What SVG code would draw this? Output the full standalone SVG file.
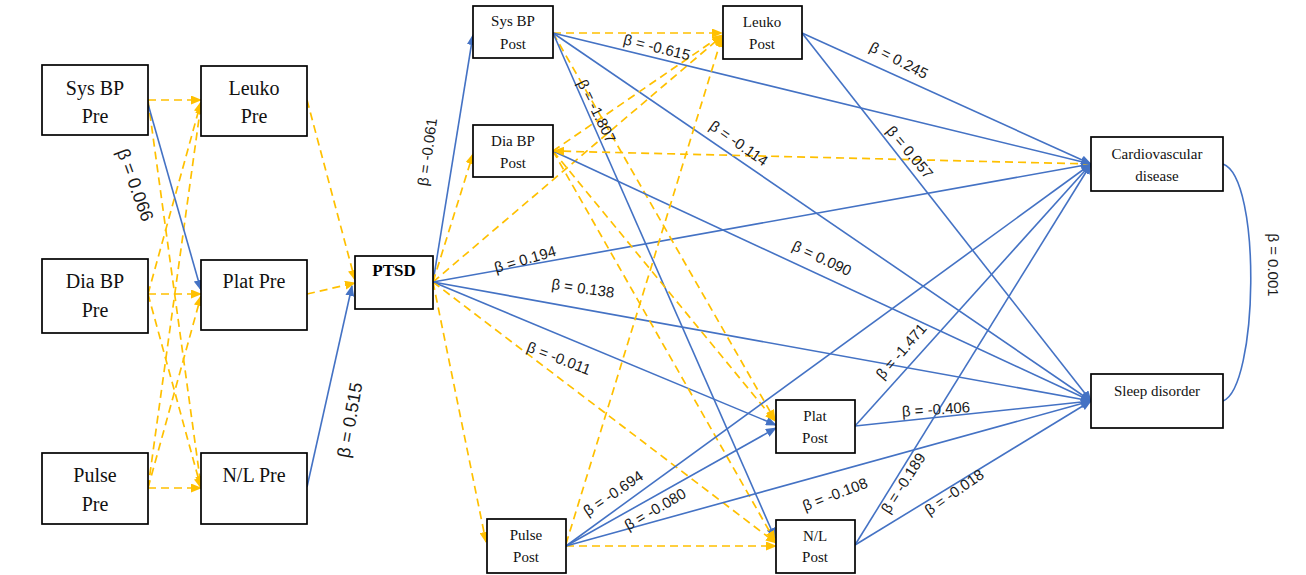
<svg xmlns="http://www.w3.org/2000/svg" width="1306" height="575" viewBox="0 0 1306 575">
  <defs>
    <marker id="ahBlue" markerUnits="userSpaceOnUse" markerWidth="11" markerHeight="9" refX="10" refY="4.5" orient="auto">
      <path d="M0,0 L11,4.5 L0,9 z" fill="#4472C4"/>
    </marker>
    <marker id="ahYellow" markerUnits="userSpaceOnUse" markerWidth="11" markerHeight="9" refX="10" refY="4.5" orient="auto">
      <path d="M0,0 L11,4.5 L0,9 z" fill="#FFC000"/>
    </marker>
    <style>
      .box { fill: #ffffff; stroke: #000000; stroke-width: 1.7; }
      .pre { font-family: "Liberation Serif", "Times New Roman", serif; font-size: 20px; fill: #111; text-anchor: middle; }
      .post { font-family: "Liberation Serif", "Times New Roman", serif; font-size: 15px; fill: #111; text-anchor: middle; }
      .bold { font-family: "Liberation Serif", "Times New Roman", serif; font-size: 17px; font-weight: bold; fill: #000; text-anchor: middle; }
      .blue { fill: none; stroke: #4472C4; stroke-width: 1.6; }
      .blueA { fill: none; stroke: #4472C4; stroke-width: 1.6; marker-end: url(#ahBlue); }
      .dash { fill: none; stroke: #FFC000; stroke-width: 1.7; stroke-dasharray: 8 5; marker-end: url(#ahYellow); }
      .lbl { font-family: "Liberation Sans", Arial, sans-serif; font-size: 15px; fill: #1a1a1a; text-anchor: middle; dominant-baseline: central; }
      .lblBig { font-family: "Liberation Sans", Arial, sans-serif; font-size: 18px; fill: #1a1a1a; text-anchor: middle; dominant-baseline: central; }
    </style>
  </defs>

  <rect width="1306" height="575" fill="#ffffff"/>

  <!-- paths between variables -->
  <g id="connectors">
    <!-- pre-measures -->
    <line class="dash" x1="148" y1="100" x2="201" y2="100"/>
    <line class="dash" x1="148" y1="100" x2="201" y2="486"/>
    <line class="dash" x1="148" y1="294" x2="201" y2="102"/>
    <line class="dash" x1="148" y1="294" x2="201" y2="294"/>
    <line class="dash" x1="148" y1="294" x2="201" y2="488"/>
    <line class="dash" x1="148" y1="488" x2="201" y2="104"/>
    <line class="dash" x1="148" y1="488" x2="201" y2="296"/>
    <line class="dash" x1="148" y1="488" x2="201" y2="488"/>
    <line class="blueA" x1="148" y1="104" x2="201" y2="290"/>
    <line class="dash" x1="307" y1="100" x2="355" y2="280"/>
    <line class="dash" x1="307" y1="294" x2="355" y2="283"/>
    <line class="blueA" x1="307" y1="487" x2="352" y2="286"/>

    <!-- PTSD to post-measures and outcomes -->
    <line class="blueA" x1="433" y1="282" x2="473" y2="35"/>
    <line class="dash" x1="433" y1="282" x2="473" y2="154"/>
    <line class="dash" x1="433" y1="282" x2="722" y2="36"/>
    <line class="dash" x1="433" y1="282" x2="486" y2="542"/>
    <line class="blueA" x1="433" y1="282" x2="776" y2="425"/>
    <line class="dash" x1="433" y1="282" x2="776" y2="543"/>
    <line class="blueA" x1="433" y1="282" x2="1091" y2="164"/>
    <line class="blueA" x1="433" y1="282" x2="1091" y2="401"/>

    <!-- Sys BP Post -->
    <line class="dash" x1="553" y1="33" x2="722" y2="33"/>
    <line class="dash" x1="553" y1="33" x2="775" y2="420"/>
    <line class="blueA" x1="553" y1="33" x2="775" y2="538"/>
    <line class="blueA" x1="553" y1="33" x2="1091" y2="164"/>
    <line class="blueA" x1="553" y1="33" x2="1091" y2="401"/>

    <!-- Dia BP Post -->
    <line class="dash" x1="553" y1="151" x2="722" y2="35"/>
    <line class="dash" x1="553" y1="151" x2="775" y2="421"/>
    <line class="dash" x1="553" y1="151" x2="775" y2="541"/>
    <line class="blueA" x1="553" y1="151" x2="1091" y2="401"/>
    <line class="dash" x1="1091" y1="164" x2="554" y2="151"/>

    <!-- Leuko Post -->
    <line class="blueA" x1="802" y1="33" x2="1091" y2="164"/>
    <line class="blueA" x1="802" y1="33" x2="1091" y2="401"/>

    <!-- Pulse Post -->
    <line class="dash" x1="566" y1="544" x2="722" y2="37"/>
    <line class="dash" x1="566" y1="546" x2="776" y2="546"/>
    <line class="blueA" x1="566" y1="546" x2="776" y2="428"/>
    <line class="blueA" x1="566" y1="546" x2="1091" y2="164"/>
    <line class="blueA" x1="566" y1="546" x2="1091" y2="401"/>

    <!-- Plat Post -->
    <line class="blueA" x1="855" y1="426" x2="1091" y2="164"/>
    <line class="blueA" x1="855" y1="426" x2="1091" y2="401"/>

    <!-- N/L Post -->
    <line class="blueA" x1="855" y1="545" x2="1091" y2="164"/>
    <line class="blueA" x1="855" y1="545" x2="1091" y2="401"/>

    <!-- outcome covariance -->
    <path class="blue" d="M1223,164 C1262,178 1258,388 1223,401"/>

    <!-- coefficients -->
    <text class="lblBig" transform="translate(135,185) rotate(70)">β = 0.066</text>
    <text class="lblBig" transform="translate(350,420) rotate(-80)">β = 0.515</text>
    <text class="lbl" transform="translate(427,152) rotate(-82)">β = -0.061</text>
    <text class="lbl" transform="translate(657,47) rotate(14)">β = -0.615</text>
    <text class="lbl" transform="translate(597,111) rotate(64)">β = -1.807</text>
    <text class="lbl" transform="translate(739,143) rotate(35)">β = -0.114</text>
    <text class="lbl" transform="translate(899,60) rotate(27)">β = 0.245</text>
    <text class="lbl" transform="translate(910,152) rotate(50)">β = 0.057</text>
    <text class="lbl" transform="translate(525,259) rotate(-16)">β = 0.194</text>
    <text class="lbl" transform="translate(583,288) rotate(8)">β = 0.138</text>
    <text class="lbl" transform="translate(559,358) rotate(21)">β = -0.011</text>
    <text class="lbl" transform="translate(822,258) rotate(25)">β = 0.090</text>
    <text class="lbl" transform="translate(901,351) rotate(-49)">β = -1.471</text>
    <text class="lbl" transform="translate(936,409) rotate(-4)">β = -0.406</text>
    <text class="lbl" transform="translate(613,493) rotate(-34)">β = -0.694</text>
    <text class="lbl" transform="translate(655,509) rotate(-30)">β = -0.080</text>
    <text class="lbl" transform="translate(835,494) rotate(-21)">β = -0.108</text>
    <text class="lbl" transform="translate(903,483) rotate(-57)">β = -0.189</text>
    <text class="lbl" transform="translate(954,492) rotate(-35)">β = -0.018</text>
    <text class="lbl" transform="translate(1273,265) rotate(90)">β = 0.001</text>
  </g>

  <!-- pre-measure nodes -->
  <g id="sysbp-pre">
    <rect class="box" x="42" y="65" width="106" height="70"/>
    <text class="pre" x="95" y="95">Sys BP</text>
    <text class="pre" x="95" y="123">Pre</text>
  </g>
  <g id="diabp-pre">
    <rect class="box" x="42" y="259" width="106" height="74"/>
    <text class="pre" x="95" y="288">Dia BP</text>
    <text class="pre" x="95" y="317">Pre</text>
  </g>
  <g id="pulse-pre">
    <rect class="box" x="42" y="453" width="106" height="71"/>
    <text class="pre" x="95" y="482">Pulse</text>
    <text class="pre" x="95" y="511">Pre</text>
  </g>
  <g id="leuko-pre">
    <rect class="box" x="201" y="66" width="106" height="70"/>
    <text class="pre" x="254" y="95">Leuko</text>
    <text class="pre" x="254" y="123">Pre</text>
  </g>
  <g id="plat-pre">
    <rect class="box" x="201" y="260" width="106" height="70"/>
    <text class="pre" x="254" y="288">Plat Pre</text>
  </g>
  <g id="nl-pre">
    <rect class="box" x="201" y="453" width="106" height="71"/>
    <text class="pre" x="254" y="482">N/L Pre</text>
  </g>

  <!-- mediator -->
  <g id="ptsd">
    <rect class="box" x="355" y="256" width="78" height="53"/>
    <text class="bold" x="394" y="276">PTSD</text>
  </g>

  <!-- post-measure nodes -->
  <g id="sysbp-post">
    <rect class="box" x="473" y="6" width="80" height="52"/>
    <text class="post" x="513" y="26">Sys BP</text>
    <text class="post" x="513" y="49">Post</text>
  </g>
  <g id="diabp-post">
    <rect class="box" x="473" y="125" width="80" height="52"/>
    <text class="post" x="513" y="146">Dia BP</text>
    <text class="post" x="513" y="168">Post</text>
  </g>
  <g id="leuko-post">
    <rect class="box" x="723" y="6" width="79" height="53"/>
    <text class="post" x="762" y="27">Leuko</text>
    <text class="post" x="762" y="49">Post</text>
  </g>
  <g id="pulse-post">
    <rect class="box" x="487" y="519" width="79" height="54"/>
    <text class="post" x="526" y="540">Pulse</text>
    <text class="post" x="526" y="562">Post</text>
  </g>
  <g id="plat-post">
    <rect class="box" x="776" y="400" width="79" height="53"/>
    <text class="post" x="815" y="421">Plat</text>
    <text class="post" x="815" y="443">Post</text>
  </g>
  <g id="nl-post">
    <rect class="box" x="776" y="520" width="79" height="53"/>
    <text class="post" x="815" y="541">N/L</text>
    <text class="post" x="815" y="562">Post</text>
  </g>

  <!-- outcomes -->
  <g id="cardiovascular">
    <rect class="box" x="1091" y="137" width="132" height="54"/>
    <text class="post" x="1157" y="159">Cardiovascular</text>
    <text class="post" x="1157" y="181">disease</text>
  </g>
  <g id="sleep">
    <rect class="box" x="1091" y="374" width="132" height="54"/>
    <text class="post" x="1157" y="396">Sleep disorder</text>
  </g>
</svg>
